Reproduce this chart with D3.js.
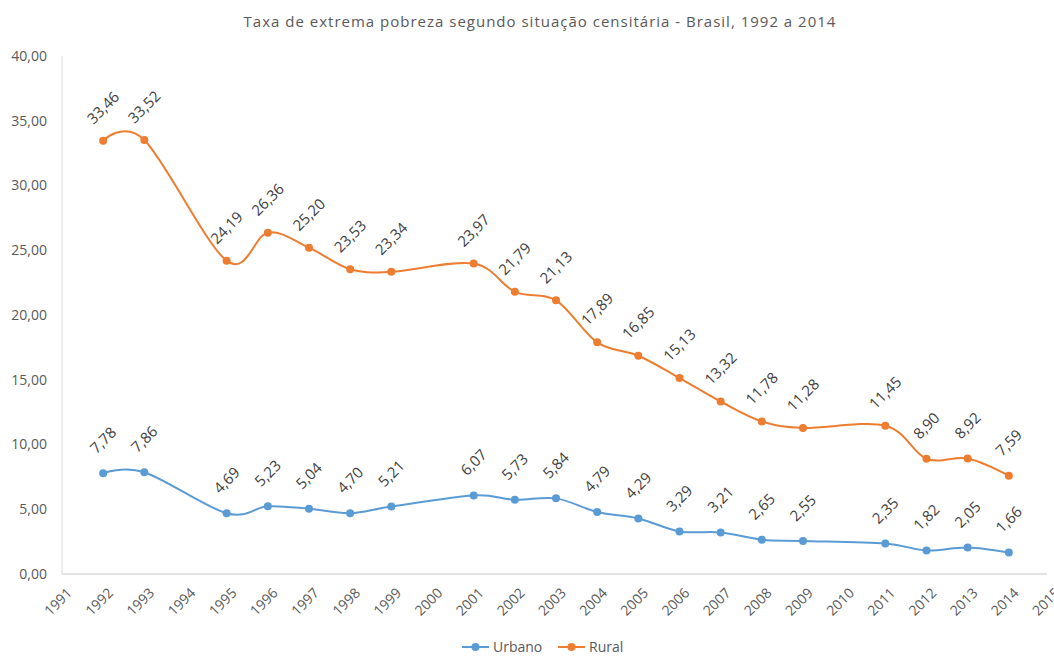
<!DOCTYPE html>
<html>
<head>
<meta charset="utf-8">
<script src="https://cdn.jsdelivr.net/npm/d3@7"></script>
<style>
  body { margin: 0; background: #fff; }
  svg { font-family: "Open Sans", sans-serif; }
</style>
</head>
<body>
<div id="container"></div>
<script>
"use strict";

const width = 1054;
const height = 657;

// data
const years = [1992, 1993, 1995, 1996, 1997, 1998, 1999, 2001, 2002, 2003,
               2004, 2005, 2006, 2007, 2008, 2009, 2011, 2012, 2013, 2014];
const urbano = [7.78, 7.86, 4.69, 5.23, 5.04, 4.70, 5.21, 6.07, 5.73, 5.84,
                4.79, 4.29, 3.29, 3.21, 2.65, 2.55, 2.35, 1.82, 2.05, 1.66];
const rural = [33.46, 33.52, 24.19, 26.36, 25.20, 23.53, 23.34, 23.97, 21.79, 21.13,
               17.89, 16.85, 15.13, 13.32, 11.78, 11.28, 11.45, 8.90, 8.92, 7.59];
const yTicks = [0, 5, 10, 15, 20, 25, 30, 35, 40];
const xTicks = d3.range(1991, 2016);

const seriesNames = ["Urbano", "Rural"];
const seriesColors = ["#5B9BD5", "#ED7D31"];
const title = "Taxa de extrema pobreza segundo situação censitária - Brasil, 1992 a 2014";

const fmt = v => v.toFixed(2).replace(".", ",");

const x = d3.scaleLinear().domain([1991, 2015]).range([62, 1050]);
const y = d3.scaleLinear().domain([0, 40]).range([574, 56]);

const svg = d3.select("#container").append("svg")
    .attr("width", width)
    .attr("height", height);

// title
svg.append("text")
    .attr("x", 540)
    .attr("y", 27)
    .attr("text-anchor", "middle")
    .style("font-size", "15px")
    .style("letter-spacing", "1px")
    .style("fill", "#595959")
    .text(title);

// axis lines
svg.append("line")
    .attr("x1", x(1991)).attr("x2", x(1991))
    .attr("y1", y(40)).attr("y2", y(0))
    .style("stroke", "#d9d9d9");
svg.append("line")
    .attr("x1", x(1991)).attr("x2", 1047)
    .attr("y1", y(0)).attr("y2", y(0))
    .style("stroke", "#d9d9d9").style("stroke-width", 1.5);

// y tick labels
svg.append("g").selectAll("text")
    .data(yTicks)
    .enter().append("text")
    .attr("x", 47)
    .attr("y", d => y(d))
    .attr("dy", "0.35em")
    .attr("text-anchor", "end")
    .style("font-size", "14px")
    .style("fill", "#595959")
    .text(fmt);

// x tick labels, rotated
svg.append("g").selectAll("text")
    .data(xTicks)
    .enter().append("text")
    .attr("transform", d => "translate(" + (x(d) + 4) + ",587) rotate(-45)")
    .attr("text-anchor", "end")
    .attr("dy", "0.7em")
    .style("font-size", "14px")
    .style("fill", "#595959")
    .text(d => d);

const line = d3.line()
    .x(d => x(d[0]))
    .y(d => y(d[1]))
    .curve(d3.curveCatmullRom.alpha(0));

[urbano, rural].forEach((vals, i) => {
    const pts = years.map((yr, j) => [yr, vals[j]]);
    const g = svg.append("g");
    g.append("path")
        .datum(pts)
        .attr("d", line)
        .style("fill", "none")
        .style("stroke", seriesColors[i])
        .style("stroke-width", 2);
    g.selectAll("circle")
        .data(pts)
        .enter().append("circle")
        .attr("cx", d => x(d[0]))
        .attr("cy", d => y(d[1]))
        .attr("r", 4)
        .style("fill", seriesColors[i]);
    g.selectAll("text")
        .data(pts)
        .enter().append("text")
        .attr("transform", d => "translate(" + x(d[0]) + "," + (y(d[1]) - 33) + ") rotate(-45)")
        .attr("text-anchor", "middle")
        .attr("dy", "0.35em")
        .style("font-size", "15px")
        .style("fill", "#404040")
        .text(d => fmt(d[1]));
});

// legend
const legend = svg.append("g");
const legendX = [462, 558];
seriesNames.forEach((name, i) => {
    const lg = legend.append("g").attr("transform", "translate(" + legendX[i] + ",647)");
    lg.append("line")
        .attr("x1", 0).attr("x2", 27)
        .style("stroke", seriesColors[i]).style("stroke-width", 2);
    lg.append("circle")
        .attr("cx", 13.5).attr("r", 4)
        .style("fill", seriesColors[i]);
    lg.append("text")
        .attr("x", 31)
        .attr("dy", "0.35em")
        .style("font-size", "14px")
        .style("fill", "#595959")
        .text(name);
});
</script>
</body>
</html>
